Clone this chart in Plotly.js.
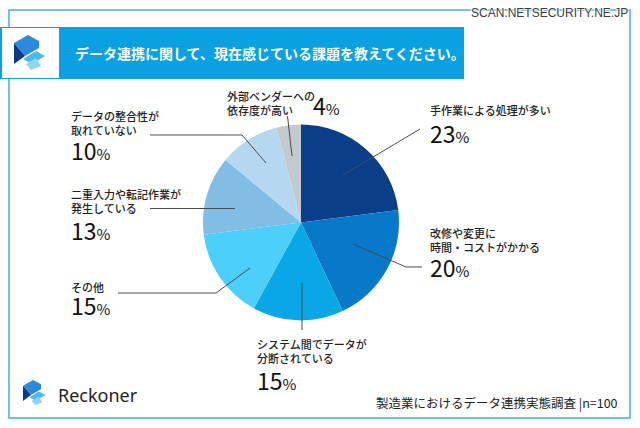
<!DOCTYPE html>
<html>
<head>
<meta charset="utf-8">
<script src="https://cdn.plot.ly/plotly-3.0.1.min.js"></script>
<style>
  html, body { margin: 0; padding: 0; background: #ffffff; }
  #chart { width: 640px; height: 428px; }
</style>
</head>
<body>
<div id="chart"></div>
<script>
// Survey answers, clockwise from 12 o'clock
const categories = [
  "手作業による処理が多い",
  "改修や変更に時間・コストがかかる",
  "システム間でデータが分断されている",
  "その他",
  "二重入力や転記作業が発生している",
  "データの整合性が取れていない",
  "外部ベンダーへの依存度が高い"
];
const shares = [23, 20, 15, 15, 13, 10, 4];
const labelLines = [
  ["手作業による処理が多い"],
  ["改修や変更に", "時間・コストがかかる"],
  ["システム間でデータが", "分断されている"],
  ["その他"],
  ["二重入力や転記作業が", "発生している"],
  ["データの整合性が", "取れていない"],
  ["外部ベンダーへの", "依存度が高い"]
];
const chartTitle = "データ連携に関して、現在感じている課題を教えてください。";
const sourceNote = "製造業におけるデータ連携実態調査 |n=100";
const brandName = "Reckoner";
const watermark = "SCAN.NETSECURITY.NE.JP";

// ---- styling ----
const sliceColors = ["#0b3e88", "#0878c8", "#0aa7e6", "#4ccffa", "#82bde5", "#b6d7f0", "#c2cad0"];
const W = 640, H = 428;
const X = px => px / W;
const Y = py => 1 - py / H;
const JP = "'Noto Sans CJK JP', 'Noto Sans', sans-serif";
const textColor = "#222222";
const leaderColor = "#4a4a4a";

// pie geometry (pixels)
const cx = 301, cy = 222.4, R = 98;

// label block placement: left x, centre of text block, centre of percentage
const placements = [
  { x: 430, yText: 110, yPct: 133, xPct: 430 },
  { x: 430, yText: 240, yPct: 267, xPct: 430 },
  { x: 257, yText: 351, yPct: 380, xPct: 257 },
  { x: 71,  yText: 287, yPct: 305, xPct: 71 },
  { x: 71,  yText: 201, yPct: 230, xPct: 71 },
  { x: 71,  yText: 122.5, yPct: 150, xPct: 71 },
  { x: 227, yText: 102.5, yPct: 105, xPct: 313 }
];

// leader line polylines (pixels), slice end first
const leaders = [
  [[343, 175], [420, 129]],
  [[353, 244], [406, 267], [422, 267]],
  [[302, 283], [302, 330]],
  [[250, 268], [216, 293], [118, 293]],
  [[235, 208.5], [150, 208.5]],
  [[266, 163], [242, 135], [150, 135]],
  [[292, 156], [287.5, 116]]
];

const shapes = [];
const annotations = [];

// outer frame
shapes.push({
  type: "rect", xref: "paper", yref: "paper", layer: "below",
  x0: X(9), x1: X(630), y0: Y(418), y1: Y(10),
  line: { color: "#41afe3", width: 1.5 }, fillcolor: "rgba(0,0,0,0)"
});
// title band
shapes.push({
  type: "rect", xref: "paper", yref: "paper", layer: "below",
  x0: X(0), x1: X(464), y0: Y(79), y1: Y(27),
  line: { width: 0 }, fillcolor: "#0aa1e2"
});
shapes.push({
  type: "rect", xref: "paper", yref: "paper", layer: "below",
  x0: X(2), x1: X(59), y0: Y(78), y1: Y(28),
  line: { width: 0 }, fillcolor: "#ffffff"
});

// brand mark built from four flat facets
const logoFacets = [
  { color: "#2e8ad8", pts: [[0, 8], [14, 0], [25, 6], [25, 13], [11, 21]] },
  { color: "#0b3a86", pts: [[0, 8], [0, 29], [11, 21]] },
  { color: "#4db9ef", pts: [[9, 24], [22, 16], [31, 21], [18, 29]] },
  { color: "#8fd5f7", pts: [[12, 29], [22, 23], [27, 31], [17, 35]] }
];
function addLogo(ox, oy, s) {
  logoFacets.forEach(f => {
    const d = f.pts.map((p, i) => (i ? "L" : "M") + X(ox + p[0] * s).toFixed(5) + "," + Y(oy + p[1] * s).toFixed(5)).join(" ") + " Z";
    shapes.push({ type: "path", xref: "paper", yref: "paper", path: d, fillcolor: f.color, line: { width: 0 }, layer: "above" });
  });
}
addLogo(14, 35, 1.0);
addLogo(23, 380, 0.72);

// leader lines
leaders.forEach(seg => {
  const d = seg.map((p, i) => (i ? "L" : "M") + X(p[0]).toFixed(5) + "," + Y(p[1]).toFixed(5)).join(" ");
  shapes.push({ type: "path", xref: "paper", yref: "paper", path: d, line: { color: leaderColor, width: 1 }, layer: "above" });
});

// category labels and percentages
categories.forEach((c, i) => {
  const pl = placements[i];
  annotations.push({
    xref: "paper", yref: "paper", x: X(pl.x - 2), y: Y(pl.yText),
    xanchor: "left", yanchor: "middle", align: "left", showarrow: false,
    text: labelLines[i].join("<br>"),
    font: { family: JP, size: 11, color: textColor, weight: 500 }
  });
  annotations.push({
    xref: "paper", yref: "paper", x: X(pl.xPct - 2), y: Y(pl.yPct),
    xanchor: "left", yanchor: "middle", showarrow: false,
    text: shares[i] + "<span style='font-size:15px'>%</span>",
    font: { family: JP, size: 23, color: "#111111" }
  });
});

// title, brand, source and watermark text
annotations.push({
  xref: "paper", yref: "paper", x: X(73), y: Y(53), xanchor: "left", yanchor: "middle",
  showarrow: false, text: chartTitle,
  font: { family: JP, size: 14, color: "#ffffff", weight: 700 }
});
annotations.push({
  xref: "paper", yref: "paper", x: X(56), y: Y(395), xanchor: "left", yanchor: "middle",
  showarrow: false, text: brandName,
  font: { family: "'Noto Sans', 'Open Sans', sans-serif", size: 18, color: "#222222" }
});
annotations.push({
  xref: "paper", yref: "paper", x: X(620), y: Y(402), xanchor: "right", yanchor: "middle",
  showarrow: false, text: sourceNote,
  font: { family: JP, size: 12.5, color: "#222222" }
});
annotations.push({
  xref: "paper", yref: "paper", x: X(630), y: Y(13), xanchor: "right", yanchor: "middle",
  showarrow: false, text: watermark,
  font: { family: "'Liberation Sans', Arial, sans-serif", size: 12, color: "#3c3c3c",
          shadow: "1px 0 1px #fff, -1px 0 1px #fff, 0 1px 1px #fff, 0 -1px 1px #fff" }
});

const trace = {
  type: "pie",
  values: shares,
  labels: categories,
  sort: false,
  direction: "clockwise",
  rotation: 0,
  textinfo: "none",
  hoverinfo: "label+percent",
  marker: { colors: sliceColors, line: { width: 0 } },
  domain: { x: [X(cx - R), X(cx + R)], y: [Y(cy + R), Y(cy - R)] },
  showlegend: false
};

const layout = {
  width: W, height: H,
  margin: { l: 0, r: 0, t: 0, b: 0, pad: 0 },
  paper_bgcolor: "#ffffff",
  plot_bgcolor: "#ffffff",
  showlegend: false,
  shapes: shapes,
  annotations: annotations
};

Plotly.newPlot("chart", [trace], layout, { displayModeBar: false, staticPlot: true });
</script>
</body>
</html>
